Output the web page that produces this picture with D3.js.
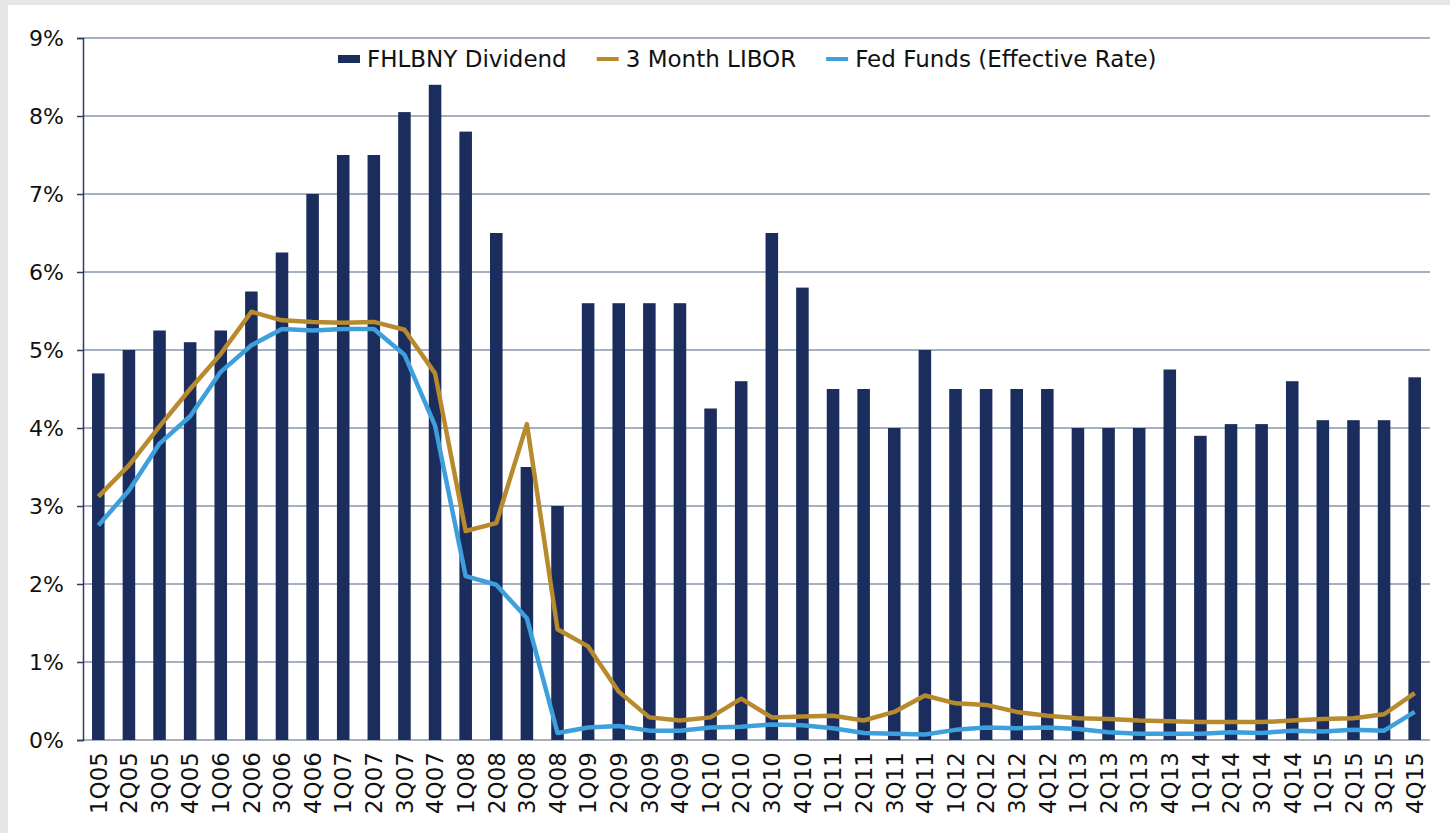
<!DOCTYPE html>
<html>
<head>
<meta charset="utf-8">
<script src="https://cdn.jsdelivr.net/npm/d3@7"></script>
<style>
  body { margin: 0; background: #e6e6e6; }
  svg { display: block; font-family: "DejaVu Sans", sans-serif; }
</style>
</head>
<body>
<div id="chart"></div>
<script>
// --- Data ---
const quarters = [
  "1Q05","2Q05","3Q05","4Q05","1Q06","2Q06","3Q06","4Q06",
  "1Q07","2Q07","3Q07","4Q07","1Q08","2Q08","3Q08","4Q08",
  "1Q09","2Q09","3Q09","4Q09","1Q10","2Q10","3Q10","4Q10",
  "1Q11","2Q11","3Q11","4Q11","1Q12","2Q12","3Q12","4Q12",
  "1Q13","2Q13","3Q13","4Q13","1Q14","2Q14","3Q14","4Q14",
  "1Q15","2Q15","3Q15","4Q15"
];

const dividend = [
  4.70, 5.00, 5.25, 5.10, 5.25, 5.75, 6.25, 7.00,
  7.50, 7.50, 8.05, 8.40, 7.80, 6.50, 3.50, 3.00,
  5.60, 5.60, 5.60, 5.60, 4.25, 4.60, 6.50, 5.80,
  4.50, 4.50, 4.00, 5.00, 4.50, 4.50, 4.50, 4.50,
  4.00, 4.00, 4.00, 4.75, 3.90, 4.05, 4.05, 4.60,
  4.10, 4.10, 4.10, 4.65
];

const libor = [
  3.12, 3.52, 4.02, 4.50, 4.95, 5.49, 5.38, 5.36,
  5.35, 5.36, 5.26, 4.70, 2.68, 2.78, 4.05, 1.42,
  1.20, 0.62, 0.29, 0.25, 0.29, 0.53, 0.29, 0.30,
  0.31, 0.25, 0.36, 0.57, 0.47, 0.45, 0.36, 0.31,
  0.28, 0.27, 0.25, 0.24, 0.23, 0.23, 0.23, 0.25,
  0.27, 0.28, 0.33, 0.60
];

const fedFunds = [
  2.75, 3.20, 3.80, 4.15, 4.72, 5.06, 5.27, 5.25,
  5.27, 5.27, 4.94, 4.03, 2.10, 1.99, 1.56, 0.09,
  0.16, 0.18, 0.12, 0.12, 0.16, 0.17, 0.20, 0.19,
  0.15, 0.09, 0.08, 0.07, 0.13, 0.16, 0.15, 0.16,
  0.14, 0.10, 0.08, 0.08, 0.08, 0.10, 0.09, 0.12,
  0.11, 0.13, 0.12, 0.36
];

const yTicks = [0, 1, 2, 3, 4, 5, 6, 7, 8, 9];

const legendItems = [
  { label: "FHLBNY Dividend", type: "bar", color: "#1b2d5c" },
  { label: "3 Month LIBOR", type: "line", color: "#b88a2e" },
  { label: "Fed Funds (Effective Rate)", type: "line", color: "#3d9fdb" }
];

// --- Setup ---
const W = 1450, H = 833;
const plot = { left: 83, right: 1430, top: 38, bottom: 740 };

const svg = d3.select("#chart").append("svg")
    .attr("width", W)
    .attr("height", H);

svg.append("rect").attr("width", W).attr("height", H).attr("fill", "#e6e6e6");
svg.append("rect").attr("x", 8).attr("y", 5)
    .attr("width", W - 8).attr("height", H - 5).attr("fill", "#ffffff");

const x = d3.scaleBand()
    .domain(quarters)
    .range([plot.left, plot.right])
    .paddingInner(0.59)
    .paddingOuter(0.295);

const y = d3.scaleLinear()
    .domain([0, 9])
    .range([plot.bottom, plot.top]);

const cx = q => x(q) + x.bandwidth() / 2;

// gridlines
svg.append("g")
    .selectAll("line")
    .data(yTicks)
    .enter()
    .append("line")
        .attr("x1", plot.left)
        .attr("x2", plot.right)
        .attr("y1", d => y(d))
        .attr("y2", d => y(d))
        .attr("stroke", "#8796ad")
        .attr("stroke-width", 1.6);

// y axis
const yAxis = svg.append("g")
    .attr("transform", `translate(${plot.left},0)`)
    .call(d3.axisLeft(y).tickValues(yTicks).tickSize(6).tickPadding(13).tickFormat(d => d + "%"));

yAxis.select(".domain").attr("stroke", "#2c3b6b").attr("stroke-width", 1.5);
yAxis.selectAll(".tick line").attr("stroke", "#2c3b6b").attr("stroke-width", 1.5);
yAxis.selectAll(".tick text")
    .attr("font-size", 22)
    .attr("font-family", "DejaVu Sans, sans-serif")
    .attr("fill", "#111");

// bars
svg.append("g")
    .selectAll("rect")
    .data(quarters)
    .enter()
    .append("rect")
        .attr("x", d => x(d))
        .attr("width", x.bandwidth())
        .attr("y", (d, i) => y(dividend[i]))
        .attr("height", (d, i) => y(0) - y(dividend[i]))
        .attr("fill", "#1b2d5c");

// lines
const line = d3.line()
    .x((d, i) => cx(quarters[i]))
    .y(d => y(d));

svg.append("path")
    .datum(libor)
    .attr("d", line)
    .attr("fill", "none")
    .attr("stroke", "#b88a2e")
    .attr("stroke-width", 4.5)
    .attr("stroke-linejoin", "round");

svg.append("path")
    .datum(fedFunds)
    .attr("d", line)
    .attr("fill", "none")
    .attr("stroke", "#3d9fdb")
    .attr("stroke-width", 4.5)
    .attr("stroke-linejoin", "round");

// x labels
svg.append("g")
    .selectAll("text")
    .data(quarters)
    .enter()
    .append("text")
        .attr("transform", d => `translate(${cx(d)},752) rotate(-90)`)
        .attr("text-anchor", "end")
        .attr("dy", "0.36em")
        .attr("font-size", 23)
        .attr("fill", "#111")
        .text(d => d);

// legend
const legend = svg.append("g").attr("class", "legend");
let lx = 338;
legendItems.forEach(item => {
    if (item.type === "bar") {
        legend.append("rect")
            .attr("x", lx).attr("y", 55)
            .attr("width", 22).attr("height", 8)
            .attr("fill", item.color);
    } else {
        legend.append("line")
            .attr("x1", lx).attr("x2", lx + 22)
            .attr("y1", 59).attr("y2", 59)
            .attr("stroke", item.color)
            .attr("stroke-width", 4);
    }
    const t = legend.append("text")
        .attr("x", lx + 29)
        .attr("y", 67)
        .attr("font-size", 23)
        .attr("fill", "#111")
        .text(item.label);
    lx += 29 + t.node().getComputedTextLength() + 30;
});
</script>
</body>
</html>
